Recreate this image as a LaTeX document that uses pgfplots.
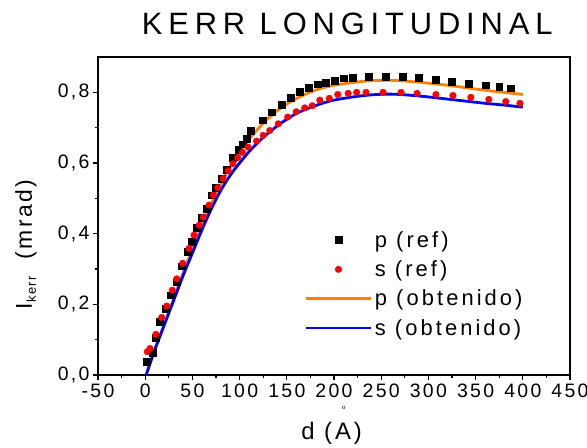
\documentclass[border=0pt]{standalone}
\usepackage{fontspec}
\setmainfont{Liberation Sans}
\usepackage{pgfplots}
\pgfplotsset{compat=1.18}
\definecolor{porange}{RGB}{255,128,0}
\definecolor{pblue}{RGB}{0,0,255}
\definecolor{pred}{RGB}{255,0,0}
\begin{document}
\begin{tikzpicture}
\useasboundingbox (-98bp,-73bp) rectangle (489bp,375bp);
\draw[draw=black, line width=1.3bp] (0bp,0bp) rectangle (472bp,318bp);
\begin{axis}[
  at={(0,0)}, anchor=south west,
  scale only axis, width=472bp, height=318bp,
  xmin=-50, xmax=450, ymin=0, ymax=0.9,
  axis x line*=bottom, axis y line*=left,
  axis line style={line width=1.3bp, -},
  xtick={-50,0,...,450}, ytick={0,0.2,0.4,0.6,0.8},
  minor x tick num=1, minor y tick num=1,
  tick align=outside,
  major tick length=5bp, minor tick length=3bp,
  every tick/.style={black, line width=1.1bp},
  /pgf/number format/assume math mode=true,
  tick label style={font=\fontsize{19.5}{22}\selectfont\addfontfeatures{LetterSpace=12}},
  y tick label style={/pgf/number format/.cd, fixed, fixed zerofill, precision=1, use comma},
  x tick label style={/pgf/number format/.cd, fixed, precision=0},
  legend style={at={(rel axis cs:0.432,0.465)}, anchor=north west, draw=none, fill=none,
    font=\fontsize{22}{25}\selectfont\addfontfeatures{LetterSpace=14}, row sep=8bp},
  legend cell align=left,
  legend image code/.code={\draw[mark repeat=2,mark phase=2,#1] plot coordinates {(0bp,0bp) (32bp,0bp) (65bp,0bp)};},
  clip=false,
]
\addplot[only marks, mark=square*, mark size=3.4bp, black] coordinates {
(1.6,0.038) (7.9,0.064) (11.5,0.105) (15.7,0.151) (22,0.188) (27,0.226) (33.4,0.264) (38.7,0.308)
(44.6,0.349) (49.3,0.377) (54.5,0.416) (59.8,0.445) (65.1,0.471) (70.4,0.509) (75,0.530)
(81,0.556) (86.3,0.580) (92.7,0.615) (98.6,0.638) (103.3,0.653) (107.5,0.669) (112,0.691)
(124.5,0.721) (134,0.744) (144.6,0.765) (154,0.785) (164,0.801) (172.8,0.813) (182.7,0.823)
(191.5,0.828) (201,0.834) (210.6,0.840) (220,0.842) (237,0.845) (255,0.845) (273,0.845)
(290,0.842) (308,0.836) (325,0.831) (343,0.825) (361,0.820) (375,0.817) (387,0.812)
};
\addlegendentry{p (ref)}
\addplot[only marks, mark=*, mark size=3.3bp, pred, draw=pred, fill=pred] coordinates {
(2.2,0.066) (5.1,0.075) (11.4,0.115) (17.5,0.163) (22.8,0.195) (28.7,0.240) (33.4,0.272)
(39.7,0.316) (46.4,0.358) (51.7,0.396) (57.3,0.424) (61.5,0.447) (67.6,0.481) (72.2,0.509)
(77,0.530) (82.7,0.556) (88,0.578) (93,0.598) (98,0.615) (103,0.630) (109,0.645) (118,0.662)
(125,0.678) (132,0.692) (141,0.711) (151,0.730) (160,0.745) (169,0.756) (177,0.762)
(185,0.778) (195,0.783) (204,0.794) (215,0.797) (224,0.800) (234,0.800) (252,0.800)
(271,0.800) (288,0.797) (308,0.794) (326,0.791) (345,0.786) (364,0.780) (382,0.774) (397,0.769)
};
\addlegendentry{s (ref)}
\addplot[porange, line width=2.8bp, smooth, no marks] coordinates {
(1,0.0) (10,0.07) (20,0.142) (30,0.215) (40,0.288) (50,0.356) (60,0.423) (70,0.485) (80,0.54)
(90,0.588) (100,0.63) (110,0.667) (120,0.698) (130,0.725) (140,0.748) (150,0.767) (160,0.782)
(170,0.795) (180,0.806) (190,0.814) (200,0.82) (220,0.828) (240,0.833) (260,0.834) (280,0.831)
(300,0.826) (320,0.82) (340,0.813) (360,0.806) (380,0.80) (400,0.794)
};
\addlegendentry{p (obtenido)}
\addplot[pblue, line width=2.8bp, smooth, no marks] coordinates {
(1,0.0) (10,0.07) (20,0.14) (30,0.21) (40,0.28) (50,0.345) (60,0.41) (70,0.47) (80,0.522)
(90,0.565) (100,0.60) (110,0.632) (120,0.66) (130,0.684) (140,0.705) (150,0.724) (160,0.74)
(170,0.752) (180,0.762) (190,0.771) (200,0.778) (220,0.787) (240,0.793) (260,0.795) (280,0.792)
(300,0.787) (320,0.781) (340,0.775) (360,0.769) (380,0.764) (400,0.758)
};
\addlegendentry{s (obtenido)}
\node[font=\fontsize{31}{36}\selectfont\addfontfeatures{LetterSpace=19}, anchor=center]
  at ([yshift=33bp]rel axis cs:0.528,1) {KERR LONGITUDINAL};
\node[font=\fontsize{24}{28}\selectfont\addfontfeatures{LetterSpace=12}, anchor=center]
  at ([yshift=-58bp]rel axis cs:0.495,0) {d (A)};
\node[font=\fontsize{6}{7}\selectfont, anchor=center]
  at ([yshift=-33bp]rel axis cs:0.521,0) {o};
\node[rotate=90, anchor=center, font=\fontsize{23}{26}\selectfont\addfontfeatures{LetterSpace=10}]
  at ([xshift=-72bp]rel axis cs:0,0.41) {I\raisebox{-4bp}{\fontsize{13}{15}\selectfont kerr}\ \ (mrad)};
\end{axis}
\end{tikzpicture}
\end{document}
